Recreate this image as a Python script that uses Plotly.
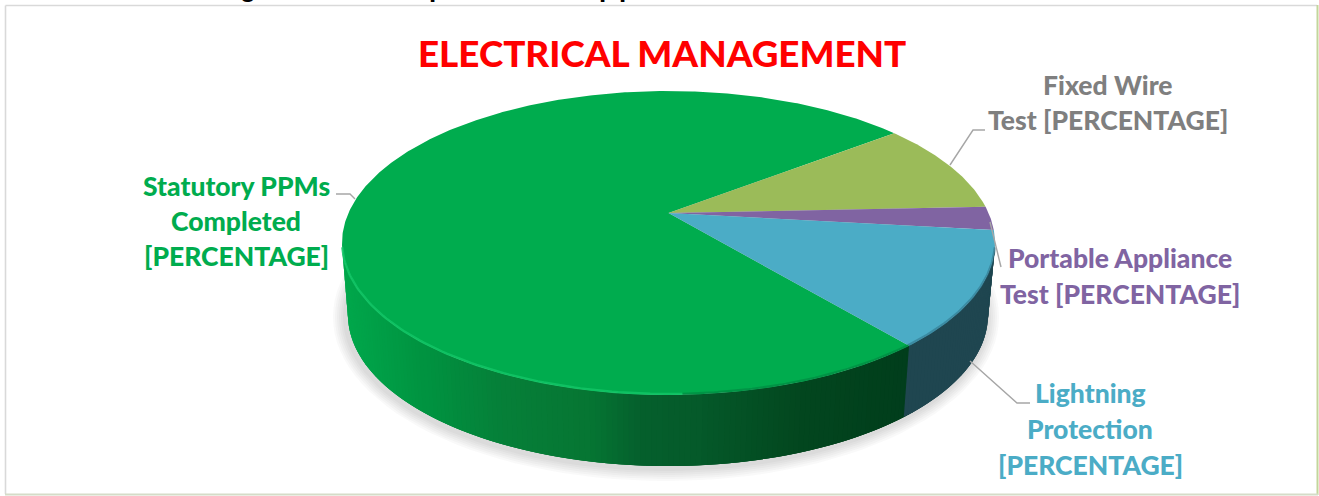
import math
import plotly.graph_objects as go

# ---------- data ----------
categories = ["Statutory PPMs Completed", "Fixed Wire Test", "Portable Appliance Test", "Lightning Protection"]
values = [75.5, 9.8, 2.5, 12.2]
top_colors = ["#00AC4E", "#9BBB59", "#8064A2", "#4BACC6"]
label_colors = ["#00AC4E", "#7F7F7F", "#8064A2", "#4BACC6"]
label_lines = [
    ["Statutory PPMs", "Completed", "[PERCENTAGE]"],
    ["Fixed Wire", "Test [PERCENTAGE]"],
    ["Portable Appliance", "Test [PERCENTAGE]"],
    ["Lightning", "Protection", "[PERCENTAGE]"],
]
title_text = "ELECTRICAL MANAGEMENT"

# ---------- layout constants ----------
W, H = 1319, 496
CX, CY, RX, RY = 668.5, 243.0, 326.5, 152.0      # top face
BX, BY, BRX, BRY = 668.0, 315.0, 320.0, 151.0    # bottom edge of the wall
TILT = 0.197                                     # perspective shift of the pie's centre
ANGLE_AT_FIXED_WIRE_START = 37.8                 # degrees, anticlockwise from +x

label_x = [236, 1108, 1120, 1090]
label_y = [[186, 221, 256], [85, 120], [258, 294], [393, 429, 465]]
FONT = "Lato"
LABEL_SIZE = 26.5
leaders = [
    ([336, 350, 355], [194, 194, 199]),
    ([950, 973, 985], [165, 130, 130]),
    ([1001, 990], [267, 222]),
    ([970, 1017, 1030], [361, 403, 403]),
]

WALL_STOPS = [(342, "#00A84C"), (420, "#009441"), (500, "#068039"), (590, "#067633"),
              (640, "#05602D"), (700, "#055A2A"), (800, "#03471F"), (907, "#013E1C")]
WALL_OTHER = {3: "#1F4650"}


def hex2rgb(h):
    return tuple(int(h[i:i + 2], 16) for i in (1, 3, 5))


def wall_color(i, x):
    if i in WALL_OTHER:
        return WALL_OTHER[i]
    if x <= WALL_STOPS[0][0]:
        return WALL_STOPS[0][1]
    for (x0, c0), (x1, c1) in zip(WALL_STOPS, WALL_STOPS[1:]):
        if x <= x1:
            f = (x - x0) / (x1 - x0)
            a, b = hex2rgb(c0), hex2rgb(c1)
            return "rgb(%d,%d,%d)" % tuple(a[k] + (b[k] - a[k]) * f for k in range(3))
    return WALL_STOPS[-1][1]


def project(x, y):
    """Perspective map of the unit disc onto itself; returns pie-plane coords."""
    d = 1 + TILT * y
    return x * math.sqrt(1 - TILT ** 2) / d, (y + TILT) / d


def slice_param(deg):
    x, y = project(math.cos(math.radians(deg)), math.sin(math.radians(deg)))
    return math.degrees(math.atan2(y, x))


def top_pt(t):
    r = math.radians(t)
    return CX + RX * math.cos(r), CY - RY * math.sin(r)


def bot_pt(t):
    r = math.radians(t)
    return BX + BRX * math.cos(r), BY - BRY * math.sin(r)


# slice angle spans, clockwise; the green slice is the one that wraps round
total = sum(values)
spans = {}
a = ANGLE_AT_FIXED_WIRE_START
for i in [1, 2, 3, 0]:
    b = a - values[i] / total * 360
    spans[i] = (a, b)
    a = b

fig = go.Figure()


def poly(xs, ys, color):
    fig.add_trace(go.Scatter(x=xs, y=ys, mode="lines", fill="toself", fillcolor=color,
                             line=dict(width=0, color=color),
                             hoverinfo="skip", showlegend=False))


# soft shadow behind the wall
for grow in [13, 11, 9, 7, 5, 3]:
    xs, ys = [], []
    for k in range(0, 361, 3):
        r = math.radians(k)
        xs.append(BX - 2 + (BRX + grow) * math.cos(r))
        ys.append(BY + 2 - (BRY + grow) * math.sin(r))
    poly(xs, ys, "rgba(60,60,60,0.03)")

# wall strips: each one runs on under the next so that no seam shows
cut = slice_param(spans[3][1]) % 360
STEP = 1.0
for i, lo, hi in [(0, 180.0, cut), (3, cut, 360.0)]:
    t = lo
    while t < hi:
        n = min(t + STEP, hi)
        far = min(t + 3 * STEP, 360.0)
        ts = [t + (far - t) * k / 4 for k in range(5)]
        p = [top_pt(u) for u in ts] + [bot_pt(u) for u in reversed(ts)]
        col = wall_color(i, (top_pt(t)[0] + top_pt(n)[0]) / 2)
        poly([q[0] for q in p] + [p[0][0]], [q[1] for q in p] + [p[0][1]], col)
        t = n

# top face
ax, ay = project(0, 0)
apex = (CX + RX * ax, CY - RY * ay)
for i in range(4):
    a, b = spans[i]
    n = max(2, int(abs(a - b) * 2))
    xs, ys = [apex[0]], [apex[1]]
    for k in range(n + 1):
        d = a + (b - a) * k / n
        x, y = project(math.cos(math.radians(d)), math.sin(math.radians(d)))
        xs.append(CX + RX * x)
        ys.append(CY - RY * y)
    xs.append(apex[0])
    ys.append(apex[1])
    poly(xs, ys, top_colors[i])

# bevel along the front edge of the top face
for tt0, tt1, col, w in [(182, cut - 45, "rgba(20,200,105,0.75)", 2.4),
                         (cut - 45, cut, "rgba(0,120,60,0.45)", 2.4),
                         (cut, 358, "rgba(40,100,120,0.45)", 2.4)]:
    ts = [tt0 + (tt1 - tt0) * k / 80 for k in range(81)]
    fig.add_trace(go.Scatter(x=[top_pt(t)[0] for t in ts], y=[top_pt(t)[1] - 1 for t in ts],
                             mode="lines", line=dict(color=col, width=w),
                             hoverinfo="skip", showlegend=False))

# leader lines
for lx, ly in leaders:
    fig.add_trace(go.Scatter(x=lx, y=ly, mode="lines", line=dict(color="#A6A6A6", width=1.4),
                             hoverinfo="skip", showlegend=False))

ann = []
for i, lines in enumerate(label_lines):
    for txt, y in zip(lines, label_y[i]):
        ann.append(dict(x=label_x[i], y=y, text=txt, showarrow=False, xanchor="center", yanchor="middle",
                        font=dict(family=FONT, size=LABEL_SIZE, color=label_colors[i], weight=900)))
ann.append(dict(x=662, y=53, text=title_text, showarrow=False, xanchor="center", yanchor="middle",
                font=dict(family=FONT, size=36.8, color="#FF0000", weight=900)))
# descenders of the line of text cropped off above the chart
for txt, x in [("g", 248), ("p", 437), ("p", 607), ("p", 627)]:
    ann.append(dict(x=x, y=4, text=txt, showarrow=False, xanchor="center", yanchor="bottom", borderpad=0,
                    font=dict(family="Liberation Sans", size=26, color="#000000", weight="bold")))

shapes = [
    dict(type="line", x0=5.5, x1=1317, y0=5.5, y1=5.5, line=dict(color="#D9D9D9", width=1.6)),
    dict(type="line", x0=5.5, x1=5.5, y0=5.5, y1=494, line=dict(color="#D9D9D9", width=1.6)),
    dict(type="line", x0=1317.5, x1=1317.5, y0=5, y1=495, line=dict(color="#C3D69B", width=2)),
    dict(type="line", x0=5, x1=1318, y0=494.5, y1=494.5, line=dict(color="#D5DCC8", width=2)),
]

fig.update_layout(
    width=W, height=H, margin=dict(l=0, r=0, t=0, b=0),
    paper_bgcolor="white", plot_bgcolor="white", showlegend=False,
    xaxis=dict(range=[0, W], visible=False, fixedrange=True),
    yaxis=dict(range=[H, 0], visible=False, fixedrange=True),
    annotations=ann, shapes=shapes,
)
fig.write_html("out.html", config=dict(displayModeBar=False),
               post_script="document.body.style.margin='0';document.body.style.overflow='hidden';")
